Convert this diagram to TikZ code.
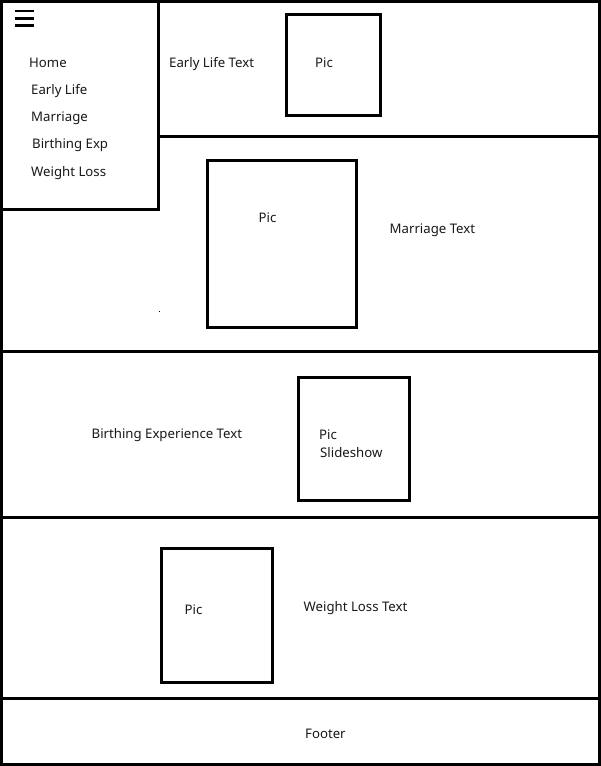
\documentclass[tikz,border=0pt]{standalone}
\usepackage{fontspec}
\setmainfont{Noto Sans}
\begin{document}
\begin{tikzpicture}[x=1pt,y=-1pt,
  frame/.style={line width=3pt},
  picbox/.style={line width=3pt},
  lbl/.style={anchor=base west,inner sep=0pt,font=\fontsize{13.2}{15}\selectfont,text=black!90,yshift=-1pt}]
\useasboundingbox (0,0) rectangle (601,766);
\fill[white] (0,0) rectangle (601,766);
% outer frame
\draw[frame] (1.5,1.5) rectangle (599.5,764.5);
% menu box
\draw[frame] (158,0) -- (158,209) -- (0,209);
% section lines
\draw[frame] (158,136) -- (601,136);
\draw[frame] (0,351.5) -- (601,351.5);
\draw[frame] (0,517) -- (601,517);
\draw[frame] (0,698) -- (601,698);
% hamburger icon
\fill (15,10) rectangle (34,12.3);
\fill (15,17.2) rectangle (34,19.5);
\fill (15,24.4) rectangle (34,26.7);
% pictures
\draw[picbox] (286,14.5) rectangle (380.5,115);
\draw[picbox] (207,160.5) rectangle (356,327.5);
\draw[picbox] (298.5,377.5) rectangle (409.5,500.5);
\draw[picbox] (161,548) rectangle (272,682);
% stray dot
\fill (159,310.5) rectangle (160,311.5);
% menu texts
\node[lbl] (home) at (29,66) {Home};
\node[lbl] (early) at (31,93.5) {Early Life};
\node[lbl] (marr) at (31,120.7) {Marriage};
\node[lbl] (birth) at (32,147.5) {Birthing Exp};
\node[lbl] (weight) at (31,175) {Weight Loss};
% content texts
\node[lbl] (earlytext) at (169,66.3) {Early Life Text};
\node[lbl] (pic1) at (315,66) {Pic};
\node[lbl] (pic2) at (258.5,221) {Pic};
\node[lbl] (marrtext) at (389.5,232.3) {Marriage Text};
\node[lbl] (birthtext) at (91.5,437.7) {Birthing Experience Text};
\node[lbl] (pic3) at (319,438.3) {Pic};
\node[lbl] (slide) at (320,456.7) {Slideshow};
\node[lbl] (pic4) at (184.5,613.3) {Pic};
\node[lbl] (weighttext) at (303.5,610.7) {Weight Loss Text};
\node[lbl] (footer) at (305,737) {Footer};
\end{tikzpicture}
\end{document}
